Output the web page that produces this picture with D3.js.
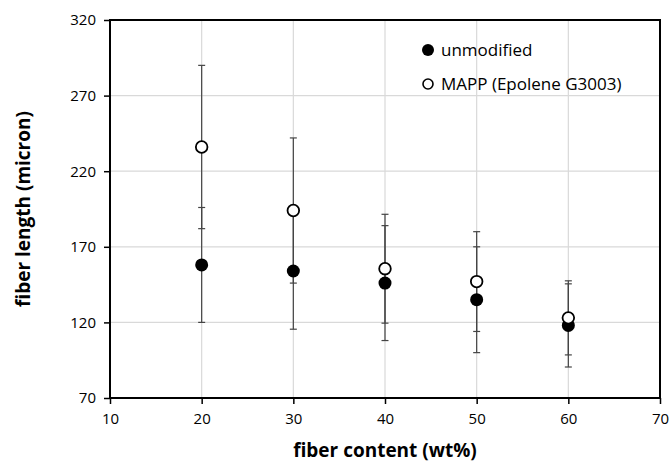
<!DOCTYPE html>
<html>
<head>
<meta charset="utf-8">
<script src="https://cdn.jsdelivr.net/npm/d3@7"></script>
<style>
  html, body { margin: 0; padding: 0; background: #fff; }
  svg { display: block; }
  text { font-family: "Open Sans", "Noto Sans", sans-serif; fill: #000; }
</style>
</head>
<body>
<svg id="chart" width="671" height="465"></svg>
<script>
// Fiber content (wt%) for each measured composite
const fiberContent = [20, 30, 40, 50, 60];

// Mean fiber length (micron) and standard deviation, unmodified PP
const unmodifiedMean = [158, 154, 146, 135, 118];
const unmodifiedErr  = [38, 38.5, 38, 35, 27.5];

// Mean fiber length (micron) and standard deviation, MAPP-coupled
const mappMean = [236, 194, 155.5, 147, 123];
const mappErr  = [54, 48, 36, 33, 24.5];

// Axis ticks
const xTicks = [10, 20, 30, 40, 50, 60, 70];
const yTicks = [70, 120, 170, 220, 270, 320];

const seriesNames = ["unmodified", "MAPP (Epolene G3003)"];

const svg = d3.select("#chart");
const margin = { left: 110, right: 11, top: 20, bottom: 67 };
const W = 671, H = 465;

const x = d3.scaleLinear().domain([10, 70]).range([margin.left, W - margin.right]);
const y = d3.scaleLinear().domain([70, 320]).range([H - margin.bottom, margin.top]);

// Gridlines
const grid = svg.append("g").attr("stroke", "#d9d9d9").attr("stroke-width", 1.2);
grid.selectAll("line.v").data(xTicks).join("line")
  .attr("x1", d => x(d)).attr("x2", d => x(d))
  .attr("y1", y(70)).attr("y2", y(320));
grid.selectAll("line.h").data(yTicks).join("line")
  .attr("x1", x(10)).attr("x2", x(70))
  .attr("y1", d => y(d)).attr("y2", d => y(d));

// Error bars
function errorBars(means, errs, cls) {
  const g = svg.append("g").attr("class", cls)
    .attr("stroke", "#444").attr("stroke-width", 1.2);
  const data = fiberContent.map((c, i) => ({ c, m: means[i], e: errs[i] }));
  g.selectAll("line.stem").data(data).join("line")
    .attr("x1", d => x(d.c)).attr("x2", d => x(d.c))
    .attr("y1", d => y(d.m - d.e)).attr("y2", d => y(d.m + d.e));
  g.selectAll("line.top").data(data).join("line")
    .attr("x1", d => x(d.c) - 3.5).attr("x2", d => x(d.c) + 3.5)
    .attr("y1", d => y(d.m + d.e)).attr("y2", d => y(d.m + d.e));
  g.selectAll("line.bot").data(data).join("line")
    .attr("x1", d => x(d.c) - 3.5).attr("x2", d => x(d.c) + 3.5)
    .attr("y1", d => y(d.m - d.e)).attr("y2", d => y(d.m - d.e));
}
errorBars(unmodifiedMean, unmodifiedErr, "err-unmod");
errorBars(mappMean, mappErr, "err-mapp");

// Markers
svg.append("g").selectAll("circle").data(fiberContent).join("circle")
  .attr("cx", d => x(d)).attr("cy", (d, i) => y(unmodifiedMean[i]))
  .attr("r", 6.5).attr("fill", "#000");
svg.append("g").selectAll("circle").data(fiberContent).join("circle")
  .attr("cx", d => x(d)).attr("cy", (d, i) => y(mappMean[i]))
  .attr("r", 5.8).attr("fill", "#fff").attr("stroke", "#000").attr("stroke-width", 1.8);

// Axes
const xAxis = svg.append("g").attr("transform", `translate(0,${y(70)})`)
  .call(d3.axisBottom(x).tickValues(xTicks).tickSize(6).tickPadding(9).tickFormat(d3.format("d")));
const yAxis = svg.append("g").attr("transform", `translate(${x(10)},0)`)
  .call(d3.axisLeft(y).tickValues(yTicks).tickSize(6).tickPadding(8).tickFormat(d3.format("d")));
[xAxis, yAxis].forEach(a => {
  a.select(".domain").remove();
  a.selectAll(".tick line").attr("stroke", "#000").attr("stroke-width", 1.5);
  a.selectAll(".tick text").style("font-size", "15px").attr("fill", "#222");
});

// Frame
svg.append("rect")
  .attr("x", x(10)).attr("y", y(320))
  .attr("width", x(70) - x(10)).attr("height", y(70) - y(320))
  .attr("fill", "none").attr("stroke", "#000").attr("stroke-width", 2);

// Axis titles
svg.append("text")
  .attr("x", (x(10) + x(70)) / 2).attr("y", 457)
  .attr("text-anchor", "middle")
  .style("font-size", "19px").style("font-weight", "bold")
  .text("fiber content (wt%)");
svg.append("text")
  .attr("transform", `translate(30,${(y(70) + y(320)) / 2}) rotate(-90)`)
  .attr("text-anchor", "middle")
  .style("font-size", "19px").style("font-weight", "bold")
  .text("fiber length (micron)");

// Legend
const legend = svg.append("g").attr("transform", "translate(428,50)");
seriesNames.forEach((name, i) => {
  const g = legend.append("g").attr("transform", `translate(0,${i * 34})`);
  if (i === 0) {
    g.append("circle").attr("r", 6).attr("fill", "#000");
  } else {
    g.append("circle").attr("r", 5).attr("fill", "#fff")
      .attr("stroke", "#000").attr("stroke-width", 1.6);
  }
  g.append("text").attr("x", 13).attr("y", 0).attr("dy", "0.35em")
    .style("font-size", "17px").text(name);
});
</script>
</body>
</html>
